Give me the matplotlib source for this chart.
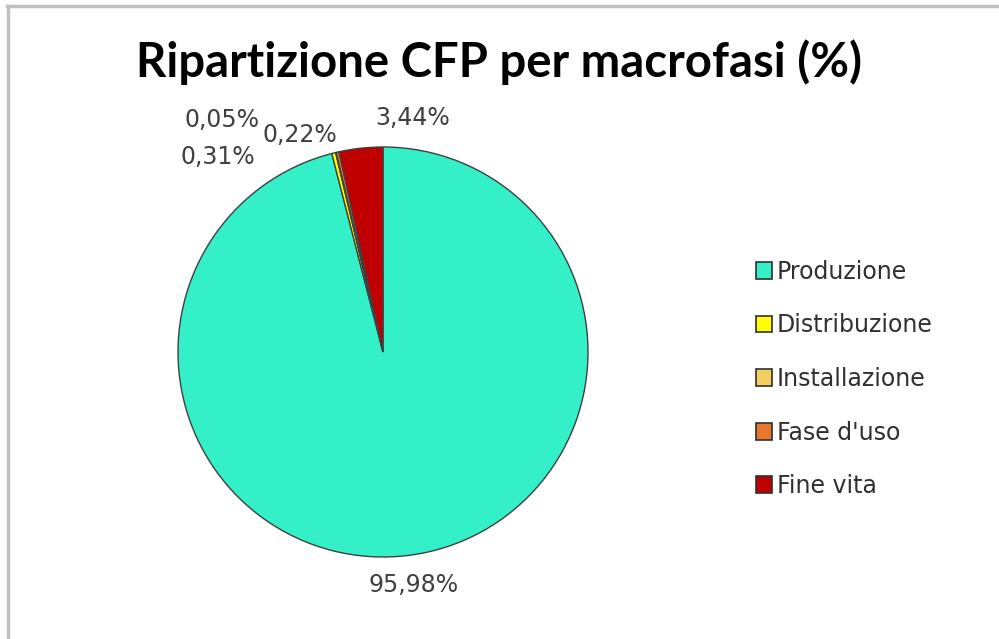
import matplotlib
matplotlib.use("Agg")
import matplotlib.pyplot as plt
from matplotlib.patches import Patch
from matplotlib.lines import Line2D

categories = ["Produzione", "Distribuzione", "Installazione", "Fase d'uso", "Fine vita"]
values = [95.98, 0.31, 0.05, 0.22, 3.44]
labels = ["95,98%", "0,31%", "0,05%", "0,22%", "3,44%"]
colors = ["#33F0C8", "#FFFF00", "#F2D060", "#E8782E", "#C00000"]
title = "Ripartizione CFP per macrofasi (%)"

W, H = 999, 639
fig = plt.figure(figsize=(W / 100, H / 100), dpi=100)
fig.patch.set_facecolor("white")

# frame lines (top and left)
fig.add_artist(Line2D([7.5 / W, 7.5 / W], [0, 1 - 5.5 / H], transform=fig.transFigure, color="#C0C0C0", lw=2.5))
fig.add_artist(Line2D([6.5 / W, 1], [1 - 5.5 / H, 1 - 5.5 / H], transform=fig.transFigure, color="#C0C0C0", lw=2.5))

cx, cy, r = 383, 352, 205
ax = fig.add_axes([(cx - r) / W, (H - cy - r) / H, 2 * r / W, 2 * r / H])
wedges, _ = ax.pie(values, colors=colors, startangle=90, counterclock=False, radius=1,
                   wedgeprops=dict(edgecolor="#404040", linewidth=1.0))
ax.set_xlim(-1, 1)
ax.set_ylim(-1, 1)
ax.set_aspect("equal")
ax.axis("off")

label_pos = [(0.151, -1.137), (-0.805, 0.951), (-0.785, 1.132), (-0.405, 1.059), (0.146, 1.141)]
lab_font = ["DejaVu Sans"]
for txt, (x, y) in zip(labels, label_pos):
    ax.text(x, y, txt, ha="center", va="center", fontsize=17, color="#404040",
            family=lab_font, clip_on=False)

fig.text(0.5, 1 - 62 / H, title, ha="center", va="center", fontsize=34, fontweight="bold",
         family=["Lato", "DejaVu Sans"], color="black")

handles = [Patch(facecolor=c, edgecolor="#303030", linewidth=1.2) for c in colors]
leg = fig.legend(handles, categories, loc="center left", bbox_to_anchor=(744 / W, 1 - 379 / H),
                 frameon=False, handlelength=0.7, handleheight=0.7,
                 handletextpad=0.2, labelspacing=1.25, borderpad=0,
                 prop=dict(family=lab_font, size=17))
for t in leg.get_texts():
    t.set_color("#303030")

fig.savefig("out.png", dpi=100, facecolor="white")
